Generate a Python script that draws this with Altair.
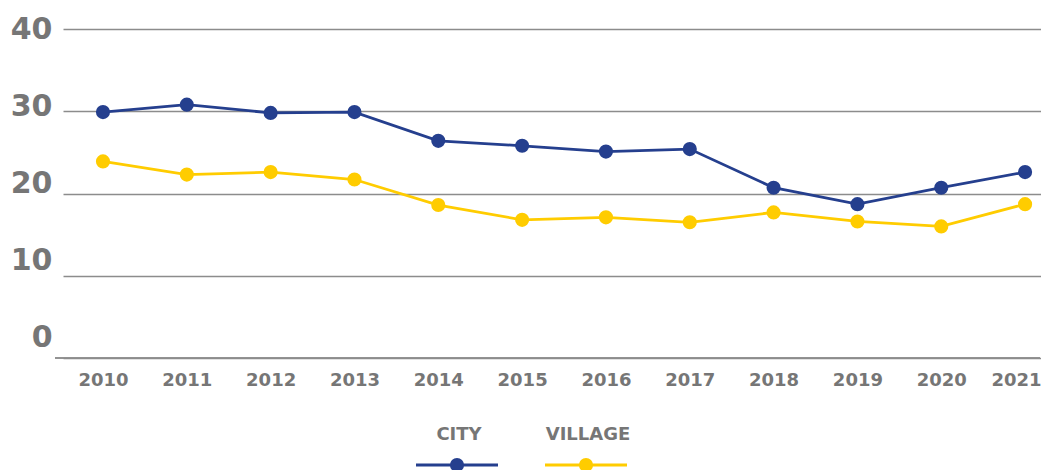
import altair as alt
import pandas as pd

years = [2010, 2011, 2012, 2013, 2014, 2015, 2016, 2017, 2018, 2019, 2020, 2021]
city = [29.9, 30.8, 29.8, 29.9, 26.4, 25.8, 25.1, 25.4, 20.7, 18.7, 20.7, 22.6]
village = [23.9, 22.3, 22.6, 21.7, 18.6, 16.8, 17.1, 16.5, 17.7, 16.6, 16.0, 18.7]
series_names = ["CITY", "VILLAGE"]
series_colors = ["#253F8E", "#FFCC00"]
y_ticks = [0, 10, 20, 30, 40]

rows = []
for name, vals in zip(series_names, [city, village]):
    for yr, v in zip(years, vals):
        rows.append({"year": yr, "series": name, "value": v})
df = pd.DataFrame(rows)
legend_df = pd.DataFrame({"series": series_names})

FONT = "DejaVu Sans"
GRAY = "#767676"

color_scale = alt.Scale(domain=series_names, range=series_colors)
x_scale = alt.Scale(domain=[2009.523, 2021.19], nice=False, zero=False)
y_scale = alt.Scale(domain=[0, 40], nice=False)

x_axis = alt.Axis(
    values=years, format="d", title=None, grid=False, ticks=False, domain=False,
    labelFont=FONT, labelFontWeight="bold", labelFontSize=18, labelColor=GRAY,
    labelPadding=13, labelFlush=20, labelFlushOffset=16,
)
y_axis = alt.Axis(
    values=y_ticks, title=None, ticks=False, domain=False, grid=True,
    gridColor="#8C8C8C", gridWidth=1.3,
    labelFont=FONT, labelFontWeight="bold", labelFontSize=30, labelColor=GRAY,
    labelPadding=11, labelOffset={"expr": "-21 + datum.value * 0.525"},
)

base = alt.Chart(df)
lines = base.mark_line(strokeWidth=2.8).encode(
    x=alt.X("year:Q", scale=x_scale, axis=x_axis),
    y=alt.Y("value:Q", scale=y_scale, axis=y_axis),
    color=alt.Color("series:N", scale=color_scale, legend=None),
)
points = base.mark_circle(size=200, opacity=1).encode(
    x=alt.X("year:Q", scale=x_scale, axis=None),
    y=alt.Y("value:Q", scale=y_scale),
    color=alt.Color("series:N", scale=color_scale, legend=None),
)
baseline = alt.Chart(legend_df).mark_rule(color="#8C8C8C", strokeWidth=1.5).encode(
    x=alt.value(-8), x2=alt.value(977), y=alt.datum(0)
)

leg_x = alt.X(
    "series:N",
    scale=alt.Scale(type="point", domain=series_names, range=[394, 523], padding=0),
    axis=None,
)
leg_tick = alt.Chart(legend_df).mark_tick(
    orient="horizontal", size=82, thickness=3, opacity=1
).encode(
    x=leg_x, y=alt.value(436),
    color=alt.Color("series:N", scale=color_scale, legend=None),
)
leg_pt = alt.Chart(legend_df).mark_circle(size=200, opacity=1).encode(
    x=leg_x, y=alt.value(436),
    color=alt.Color("series:N", scale=color_scale, legend=None),
)
leg_txt = alt.Chart(legend_df).mark_text(
    font=FONT, fontWeight="bold", fontSize=18, color=GRAY, dx=2, baseline="middle"
).encode(x=leg_x, y=alt.value(406), text="series:N")

chart = alt.layer(baseline, lines, points, leg_tick, leg_pt, leg_txt).resolve_scale(
    x="independent"
).properties(
    width=978, height=329,
    background="white",
    autosize=alt.AutoSizeParams(type="none"),
    padding={"left": 55, "top": 21, "right": 0, "bottom": 117},
).configure_view(stroke=None).configure_axis(domain=False)

chart.save("out.html", embed_options={"renderer": "svg", "actions": False})
